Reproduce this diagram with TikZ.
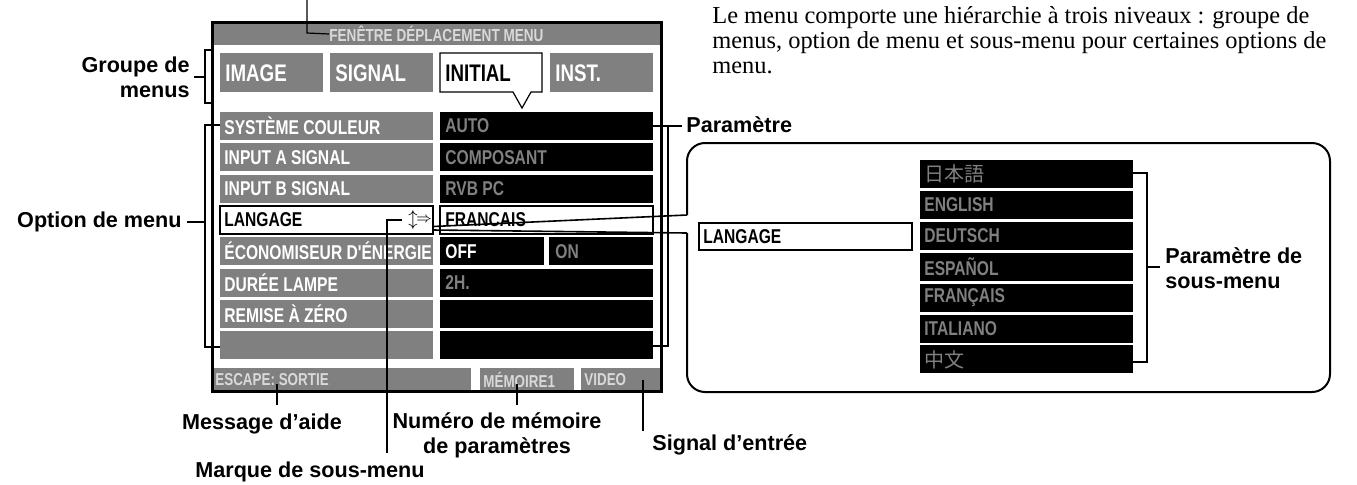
\documentclass[tikz,border=0pt]{standalone}
\usepackage{fontspec}
\setmainfont{Liberation Serif}
\newfontfamily\lab{Liberation Sans}
\newfontfamily\cond[FakeStretch=0.78]{Liberation Sans}
\newfontfamily\cjk{Noto Sans CJK JP}
\definecolor{mg}{gray}{0.5}
\definecolor{lg}{gray}{0.85}
\begin{document}
\begin{tikzpicture}[x=0.5pt,y=-0.5pt,
  lbl/.style={font=\lab\bfseries\fontsize{10.8}{12.5}\selectfont,inner sep=0pt},
  mt/.style={font=\cond\bfseries\fontsize{10}{11}\selectfont,inner sep=0pt,anchor=west},
  gt/.style={font=\cond\bfseries\fontsize{12}{12}\selectfont,inner sep=0pt,anchor=west},
  st/.style={inner sep=0pt,anchor=west,text=lg,font=\cond\bfseries\fontsize{8.6}{9}\selectfont},
  pt/.style={anchor=base west,inner sep=0pt,font=\fontsize{12.2}{14}\selectfont},
  ln/.style={line width=0.6pt},
  br/.style={line width=0.9pt}]
\useasboundingbox (0,0) rectangle (1357,484);
% paragraph
\node[pt] (p1) at (712,23) {Le menu comporte une hiérarchie à trois niveaux : groupe de};
\node[pt] (p2) at (712,48) {menus, option de menu et sous-menu pour certaines options de};
\node[pt] (p3) at (712,73) {menu.};
% window
\fill[white] (212,22) rectangle (661,391);
\fill[mg] (212,22) rectangle (661,45);
\node[inner sep=0pt,anchor=west,text=lg,font=\cond\bfseries\fontsize{8.7}{9}\selectfont] (title) at (329,34) {FENÊTRE DÉPLACEMENT MENU};
% tabs
\fill[mg] (220,53) rectangle (323,92);
\fill[mg] (330,53) rectangle (433,92);
\fill[mg] (550,53) rectangle (653,92);
\draw[line width=0.6pt,fill=white] (440,53) -- (542,53) -- (542,92) -- (531,92) -- (522,108) -- (513,92) -- (440,92) -- cycle;
\node[gt,text=white] (t1) at (225,73) {IMAGE};
\node[gt,text=white] (t2) at (335,73) {SIGNAL};
\node[gt,text=black] (t3) at (445,73) {INITIAL};
\node[gt,text=white] (t4) at (555,73) {INST.};
% rows
\foreach \i/\a/\b/\ca in {0/SYSTÈME COULEUR/AUTO/mg,1/INPUT A SIGNAL/COMPOSANT/mg,2/INPUT B SIGNAL/RVB PC/mg,4/ÉCONOMISEUR D'ÉNERGIE/OFF/white,5/DURÉE LAMPE/2H./mg,6/REMISE À ZÉRO//mg,7///mg}{
  \pgfmathsetmacro\yt{112+31.3*\i}
  \fill[mg] (220,\yt) rectangle (433,\yt+28);
  \fill[black] (440,\yt) rectangle (653,\yt+28);
  \node[mt,text=white] (l\i) at (224,\yt+14) {\a};
  \node[mt,text=\ca] (r\i) at (445,\yt+14) {\b};
}
\fill[white] (544,237.2) rectangle (549,265.2);
\node[mt,text=mg] (on) at (555,251.2) {ON};
% LANGAGE row
\draw[line width=0.6pt,fill=white] (220,206) rectangle (433,234);
\draw[line width=0.6pt,fill=white] (440,206) rectangle (653,234);
\node[mt] (l3) at (224,220) {LANGAGE};
\node[mt] (r3) at (445,220) {FRANCAIS};
\node[inner sep=0pt,font=\lab\fontsize{9}{10}\selectfont] (upd) at (413,220) {$\updownarrow$};
\node[inner sep=0pt,font=\lab\fontsize{7}{8}\selectfont] (mark) at (424,220) {$\Rightarrow$};
% status bar
\fill[mg] (212,368) rectangle (661,391);
\fill[white] (471,368) rectangle (480,391);
\fill[white] (574,368) rectangle (581,391);
\node[st] (esc) at (215,380) {ESCAPE: SORTIE};
\node[st] (mem) at (483,380) {MÉMOIRE1};
\node[st] (vid) at (584,380) {VIDEO};
\draw[line width=1.5pt] (212,22) rectangle (661,391);
% pointers
\draw[ln] (307,0) -- (307,33) -- (title.west);
\draw[br] (213,50) -- (205,50) -- (205,103) -- (213,103);
\draw[ln] (205,77) -- (194,77);
\node[lbl,anchor=east,align=right] (grp) at (190,77) {Groupe de\\menus};
\draw[br] (220,125) -- (205,125) -- (205,347) -- (220,347);
\draw[ln] (205,222) -- (187,222);
\node[lbl,anchor=east] (opt) at (182,222) {Option de menu};
\draw[br] (653,126) -- (668,126) -- (668,346) -- (653,346);
\draw[ln] (668,126) -- (682,126);
\node[lbl,anchor=west] (par) at (686,125) {Paramètre};
\draw[ln] (402,220) -- (387,220) -- (387,453);
\node[lbl] (msm) at (310,472) {Marque de sous-menu};
\draw[ln] (277,384) -- (277,405);
\node[lbl] (aide) at (262,424) {Message d’aide};
\draw[ln] (517,384) -- (517,405);
\node[lbl,align=center] (num) at (497,435) {Numéro de mémoire\\de paramètres};
\draw[ln] (643,380) -- (643,431);
\node[lbl,anchor=west] (sig) at (652,445) {Signal d’entrée};
% zoom lines
\draw[line width=0.8pt] (433,226.5) -- (687,215);
\draw[line width=0.8pt] (433,230) -- (687,233);
% submenu box
\draw[line width=1pt,rounded corners=9pt] (687,215) -- (687,143) -- (1330,143) -- (1330,392) -- (687,392) -- (687,233);
\draw[line width=0.6pt] (699,223) rectangle (912,250);
\node[mt] (sl) at (703,236.5) {LANGAGE};
\foreach \i/\t in {0/{\cjk\mdseries 日本語},1/ENGLISH,2/DEUTSCH,3/ESPAÑOL,4/FRANÇAIS,5/ITALIANO,6/{\cjk\mdseries 中文}}{
  \pgfmathsetmacro\yt{160+30.9*\i}
  \fill[black] (920,\yt) rectangle (1133,\yt+28);
  \node[mt,text=mg] (s\i) at (924,\yt+14) {\t};
}
\draw[br] (1133,173) -- (1147,173) -- (1147,362) -- (1133,362);
\draw[ln] (1147,267) -- (1160,267);
\node[lbl,anchor=west,align=left] (spar) at (1165,268) {Paramètre de\\sous-menu};
\end{tikzpicture}
\end{document}
